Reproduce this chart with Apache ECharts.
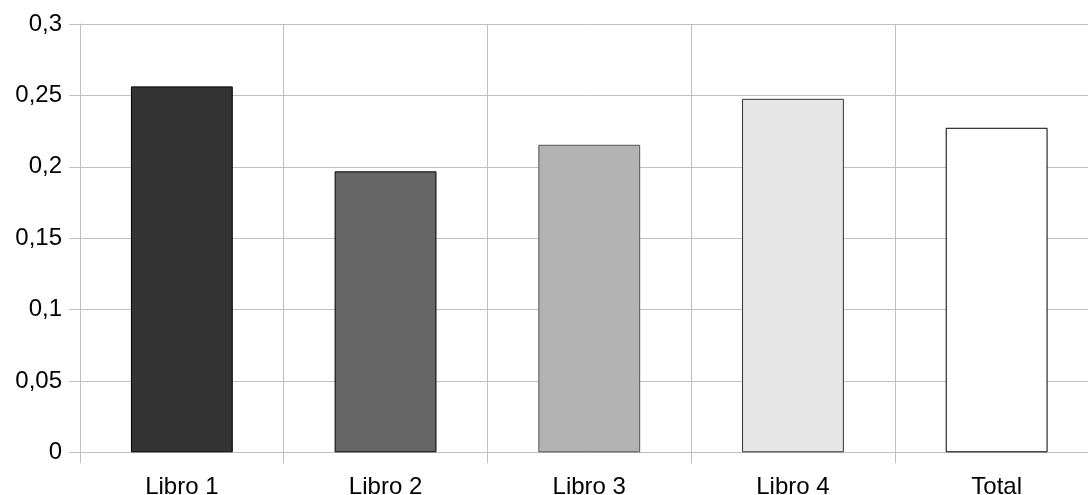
<!DOCTYPE html>
<html>
<head>
<meta charset="utf-8">
<script src="https://cdn.jsdelivr.net/npm/echarts@6/dist/echarts.min.js"></script>
<style>
html,body{margin:0;padding:0;background:#fff;}
#chart{width:1088px;height:495px;}
</style>
</head>
<body>
<div id="chart"></div>
<script>
const categories = ['Libro 1', 'Libro 2', 'Libro 3', 'Libro 4', 'Total'];
const values = [0.2563, 0.1968, 0.2154, 0.2476, 0.2273];
const fillColors = ['#333333', '#666666', '#b3b3b3', '#e6e6e6', '#ffffff'];
const borderColors = ['#000000', '#000000', '#555555', '#333333', '#000000'];

const chart = echarts.init(document.getElementById('chart'), null, {renderer: 'canvas'});
const gridColor = '#c0c0c0';
const font = '"Liberation Sans", Arial, sans-serif';
chart.setOption({
  animation: false,
  backgroundColor: '#ffffff',
  grid: {left: 80, top: 24, width: 1018.5, height: 428.3, containLabel: false, outerBoundsMode: 'none'},
  xAxis: {
    type: 'category',
    data: categories,
    boundaryGap: true,
    axisLine: {show: true, lineStyle: {color: gridColor, width: 1}},
    axisTick: {show: true, length: 11, lineStyle: {color: gridColor}},
    splitLine: {show: true, lineStyle: {color: gridColor, width: 1}},
    axisLabel: {color: '#000', fontSize: 24, fontFamily: font, margin: 23}
  },
  yAxis: {
    type: 'value',
    min: 0, max: 0.3, interval: 0.05,
    axisLine: {show: true, lineStyle: {color: gridColor, width: 1}},
    axisTick: {show: true, length: 11, lineStyle: {color: gridColor}},
    splitLine: {show: true, lineStyle: {color: gridColor, width: 1}},
    axisLabel: {
      color: '#000', fontSize: 24, fontFamily: font, margin: 18,
      formatter: v => String(+v.toFixed(2)).replace('.', ',')
    }
  },
  series: [{
    type: 'bar',
    barWidth: '50%',
    data: values.map((v, i) => ({
      value: v,
      itemStyle: {color: fillColors[i], borderColor: borderColors[i], borderWidth: 1}
    }))
  }]
});
</script>
</body>
</html>
